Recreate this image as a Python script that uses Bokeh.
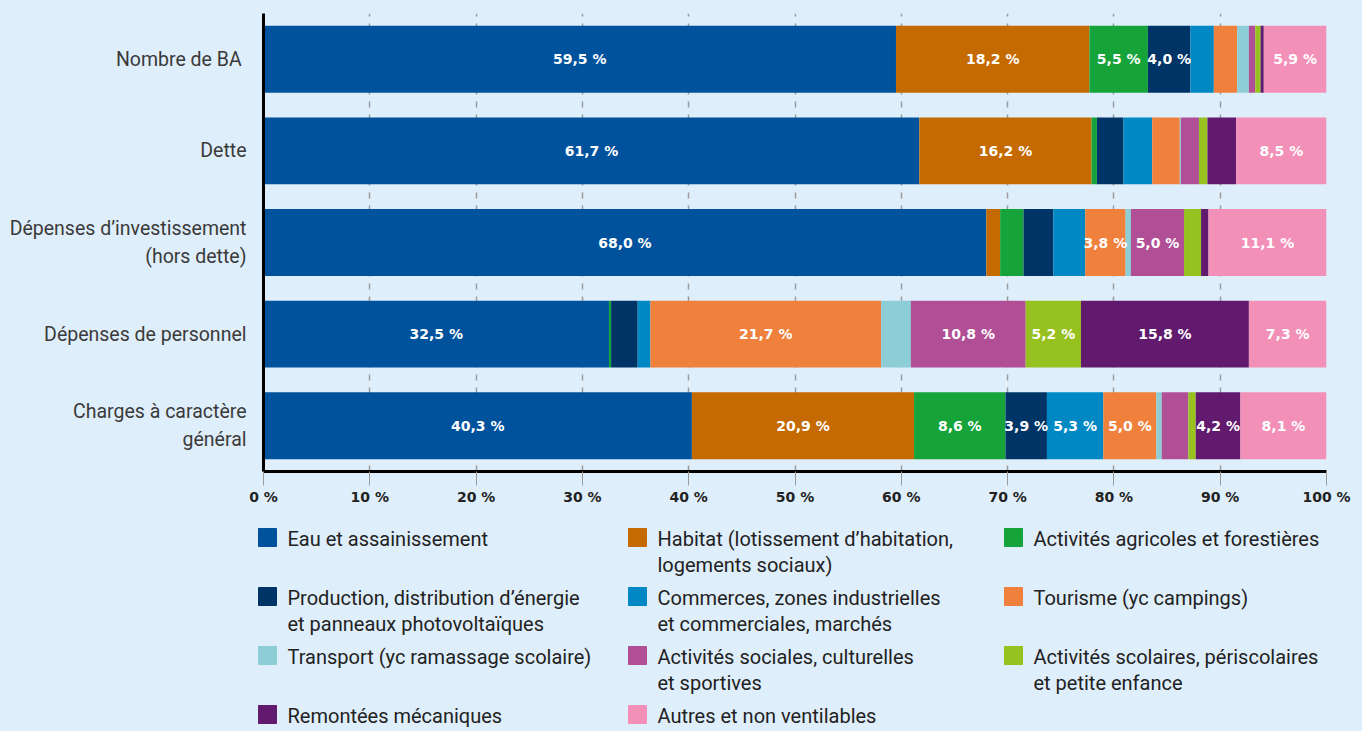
from bokeh.plotting import figure
from bokeh.models import ColumnDataSource, FactorRange, Range1d, FixedTicker
from bokeh.embed import file_html
from bokeh.resources import INLINE
from bokeh.core.properties import value

# ---------------- data ----------------
categories = ["Nombre de  BA", "Dette", "Dépenses d’investissement\n(hors dette)",
              "Dépenses de personnel", "Charges à caractère\ngénéral"]

series_names = [
    "Eau et assainissement",
    "Habitat (lotissement d’habitation,\nlogements sociaux)",
    "Activités agricoles et forestières",
    "Production, distribution d’énergie\net panneaux photovoltaïques",
    "Commerces, zones industrielles\net commerciales, marchés",
    "Tourisme (yc campings)",
    "Transport (yc ramassage scolaire)",
    "Activités sociales, culturelles\net sportives",
    "Activités scolaires, périscolaires\net petite enfance",
    "Remontées mécaniques",
    "Autres et non ventilables",
]

eau = [59.5, 61.7, 68.0, 32.5, 40.3]
habitat = [18.2, 16.2, 1.3, 0.0, 20.9]
agricole = [5.5, 0.5, 2.2, 0.2, 8.6]
production = [4.0, 2.5, 2.8, 2.5, 3.9]
commerces = [2.2, 2.7, 3.0, 1.2, 5.3]
tourisme = [2.2, 2.6, 3.8, 21.7, 5.0]
transport = [1.1, 0.1, 0.5, 2.8, 0.5]
sociales = [0.6, 1.7, 5.0, 10.8, 2.5]
scolaires = [0.5, 0.8, 1.6, 5.2, 0.7]
remontees = [0.3, 2.7, 0.7, 15.8, 4.2]
autres = [5.9, 8.5, 11.1, 7.3, 8.1]

series_values = [eau, habitat, agricole, production, commerces, tourisme,
                 transport, sociales, scolaires, remontees, autres]

colors = ["#00529c", "#c56a00", "#15a33a", "#003466", "#0088c4", "#f0813d",
          "#8ccdd6", "#b04f96", "#96c11f", "#611a6e", "#f290b8"]

x_ticks = [0, 10, 20, 30, 40, 50, 60, 70, 80, 90, 100]
label_min = 3.5

BG = "#dfeefb"

# ---------------- main chart ----------------
p = figure(y_range=FactorRange(factors=list(reversed(categories))),
           x_range=Range1d(0, 100),
           frame_width=1063, frame_height=458,
           min_border_left=263, min_border_right=36,
           min_border_top=13, min_border_bottom=49,
           output_backend="svg", toolbar_location=None,
           background_fill_color=BG, border_fill_color=BG)
p.outline_line_color = None

left = [0.0] * len(categories)
lab_x, lab_y, lab_t = [], [], []
for name, vals, col in zip(series_names, series_values, colors):
    right = [l + v for l, v in zip(left, vals)]
    src = ColumnDataSource(dict(y=categories, left=left, right=right))
    p.hbar(y="y", left="left", right="right", height=0.73, source=src,
           fill_color=col, line_color=None)
    for c, l, v in zip(categories, left, vals):
        if v >= label_min:
            lab_x.append(l + v / 2)
            lab_y.append(c)
            lab_t.append(f"{v:.1f} %".replace(".", ","))
    left = right

p.text(x=lab_x, y=lab_y, text=lab_t, text_color="white",
       text_font=value("DejaVu Sans"), text_font_style="bold",
       text_font_size="14px", text_align="center", text_baseline="middle")

# grid
p.ygrid.grid_line_color = None
p.xgrid.ticker = FixedTicker(ticks=x_ticks)
p.xgrid.grid_line_color = "#9b9b9b"
p.xgrid.grid_line_width = 1.5
p.xgrid.grid_line_dash = "6 7"

# x axis
p.xaxis.ticker = FixedTicker(ticks=x_ticks)
p.xaxis.major_label_overrides = {t: f"{t} %" for t in x_ticks}
p.xaxis.axis_line_color = "black"
p.xaxis.axis_line_width = 3
p.xaxis.major_tick_in = 0
p.xaxis.major_tick_out = 14
p.xaxis.major_tick_line_color = "#9b9b9b"
p.xaxis.minor_tick_line_color = None
p.xaxis.major_label_text_font = "DejaVu Sans"
p.xaxis.major_label_text_font_style = "bold"
p.xaxis.major_label_text_font_size = "14px"
p.xaxis.major_label_text_color = "#222222"
p.xaxis.major_label_standoff = 3

# y axis
p.yaxis.axis_line_color = "black"
p.yaxis.axis_line_width = 3
p.yaxis.major_tick_line_color = None
p.yaxis.minor_tick_line_color = None
p.yaxis.major_label_text_font = "Roboto"
p.yaxis.major_label_text_font_size = "19.5px"
p.yaxis.major_label_text_color = "#3a3a3a"
p.yaxis.major_label_standoff = 11

# ---------------- legend ----------------
LW, LH = 1362, 211
leg = figure(width=LW, height=LH, x_range=Range1d(0, LW), y_range=Range1d(LH, 0),
             min_border=0, output_backend="svg", toolbar_location=None,
             background_fill_color=BG, border_fill_color=BG)
leg.outline_line_color = None
leg.axis.visible = False
leg.grid.visible = False

col_x = [258, 628, 1004]
row_y0, row_dy, line_dy = 18, 59, 26
sq_x, sq_y, sq_c = [], [], []
tx, ty, tt = [], [], []
for i, (name, col) in enumerate(zip(series_names, colors)):
    r, c = divmod(i, 3)
    y0 = row_y0 + r * row_dy
    sq_x.append(col_x[c] + 9)
    sq_y.append(y0 - 1)
    sq_c.append(col)
    for k, line in enumerate(name.split("\n")):
        tx.append(col_x[c] + 29)
        ty.append(y0 + k * line_dy)
        tt.append(line)

leg.scatter(x=sq_x, y=sq_y, marker="square", size=18, fill_color=sq_c,
            line_color=sq_c)
leg.text(x=tx, y=ty, text=tt, text_font=value("Roboto"), text_font_size="20px",
         text_color="#222222", text_align="left", text_baseline="middle")

html = file_html((p, leg), INLINE)
html = html.replace("<head>", "<head><style>html,body{margin:0;padding:0;background:%s;}</style>" % BG, 1)
open("out.html", "w").write(html)
